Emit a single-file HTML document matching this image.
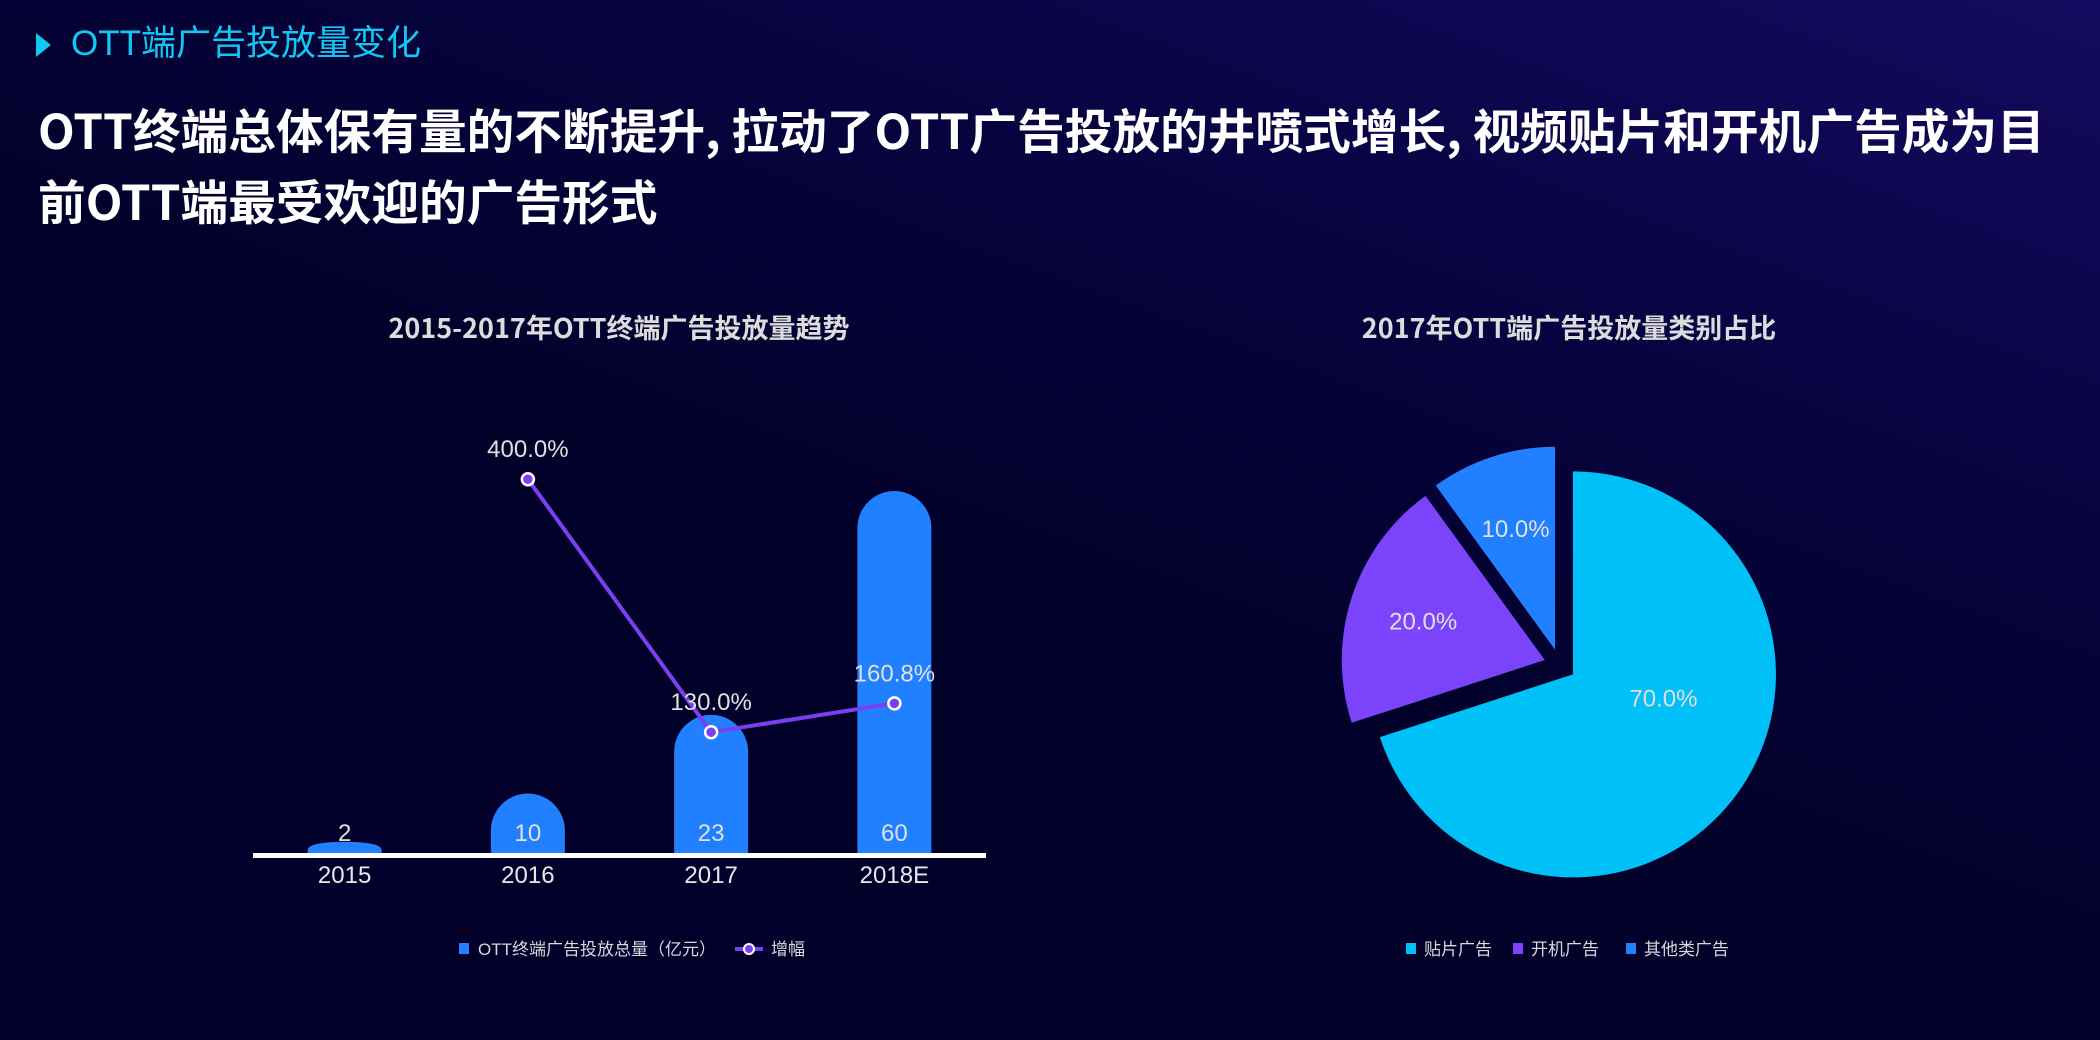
<!DOCTYPE html>
<html><head><meta charset="utf-8">
<style>
html,body{margin:0;padding:0;}
body{width:2100px;height:1040px;overflow:hidden;position:relative;
background:linear-gradient(200deg,#140a60 0%,#07033f 30%,#020129 55%,#01002a 100%);
font-family:"Liberation Sans","Noto Sans CJK SC",sans-serif;}
.hdr{position:absolute;left:71px;top:20px;font-size:35px;color:#10c8f2;line-height:48px;}
.tri{position:absolute;left:36px;top:33px;width:0;height:0;border-top:12px solid transparent;border-bottom:12px solid transparent;border-left:15px solid #10c8f2;}
.title{position:absolute;left:38px;top:93px;font-family:"Noto Sans CJK SC",sans-serif;font-weight:bold;font-size:47.7px;line-height:71px;color:#fff;white-space:nowrap;}
svg{position:absolute;left:0;top:0;}
</style></head><body>
<div class="tri"></div>
<div class="hdr">OTT端广告投放量变化</div>
<div class="title">OTT终端总体保有量的不断提升, 拉动了OTT广告投放的井喷式增长, 视频贴片和开机广告成为目<br>前OTT端最受欢迎的广告形式</div>
<svg id="chart" width="2100" height="1040"></svg>
<script>
const categories=["2015","2016","2017","2018E"];
const barValues=[2,10,23,60];
const growthCats=["2016","2017","2018E"];
const growthValues=[400.0,130.0,160.8];
const pieLabels=["贴片广告","开机广告","其他类广告"];
const pieValues=[70,20,10];
const pieColors=["#00c0f8","#7b44fb","#2080ff"];

const NS="http://www.w3.org/2000/svg";
const svg=document.getElementById('chart');
function mk(tag,attrs,parent){const e=document.createElementNS(NS,tag);for(const k in attrs)e.setAttribute(k,attrs[k]);(parent||svg).appendChild(e);return e;}
function txt(s,x,y,size,fill,extra){const t=mk('text',Object.assign({x:x,y:y,'font-size':size,fill:fill,'text-anchor':'middle','font-family':'"Liberation Sans","Noto Sans CJK SC",sans-serif'},extra||{}));t.textContent=s;return t;}

// Bar chart
const axisY=854, x0=253, x1=986;
const xPos=i=>x0+(x1-x0)/categories.length*(i+0.5);
const yBar=v=>axisY-v*6.05;
const yLine=v=>axisY-v*0.937;
const t1=txt("2015-2017年OTT终端广告投放量趋势",619,338,27,"#dcdcdc",{'font-weight':'bold','font-family':'"Noto Sans CJK SC",sans-serif'});


const r=37;
barValues.forEach((v,i)=>{
  const cx=xPos(i),top=yBar(v),h=axisY-top;
  let d;
  if(h>=r){d=`M${cx-r},${axisY} L${cx-r},${top+r} A${r},${r} 0 0 1 ${cx+r},${top+r} L${cx+r},${axisY} Z`;}
  else{d=`M${cx-r},${axisY} L${cx-r},${axisY-h*0.3} Q${cx-r},${top} ${cx},${top} Q${cx+r},${top} ${cx+r},${axisY-h*0.3} L${cx+r},${axisY} Z`;}
  const p=mk('path',{d:d,fill:'#2080ff'});
  
  
  const lbl=txt(String(v),cx,841,24,"#e0e0e0");
  
  
  const cl=txt(categories[i],cx,883,24,"#e8e8e8");
  
  
});
const ax=mk('rect',{x:x0,y:axisY-1,width:x1-x0,height:5,fill:'#fff'});


const pts=growthValues.map((v,i)=>[xPos(categories.indexOf(growthCats[i])),yLine(v)]);
const pl=mk('polyline',{points:pts.map(p=>p.join(',')).join(' '),fill:'none',stroke:'#7b3ff2','stroke-width':4});


pts.forEach((p,i)=>{
  const c=mk('circle',{cx:p[0],cy:p[1],r:6,fill:'#7b3ff2',stroke:'#fff','stroke-width':2.5});
  
  
  const l=txt(growthValues[i].toFixed(1)+'%',p[0],p[1]-22,24,"#e0e0e0");
  
  
});
// bar legend
const lg1=mk('rect',{x:459,y:943,width:10,height:11,fill:'#2080ff'});


const lt1=txt("OTT终端广告投放总量（亿元）",478,955,17,"#d8d8d8",{'text-anchor':'start'});


const ll=mk('line',{x1:735,y1:949,x2:763,y2:949,stroke:'#7b3ff2','stroke-width':4});


const lc=mk('circle',{cx:749,cy:949,r:5,fill:'#7b3ff2',stroke:'#fff','stroke-width':2});


const lt2=txt("增幅",771,955,17,"#d8d8d8",{'text-anchor':'start'});



// Pie
const t2=txt("2017年OTT端广告投放量类别占比",1569,338,27,"#dcdcdc",{'font-weight':'bold','font-family':'"Noto Sans CJK SC",sans-serif'});


const C=[1560,665],R=203,off=16;
const total=pieValues.reduce((a,b)=>a+b,0);
let acc=0;
pieValues.forEach((v,i)=>{
  const a0=acc/total*2*Math.PI, a1=(acc+v)/total*2*Math.PI; acc+=v;
  const am=(a0+a1)/2;
  const cx=C[0]+off*Math.sin(am), cy=C[1]-off*Math.cos(am);
  const p0=[cx+R*Math.sin(a0),cy-R*Math.cos(a0)], p1=[cx+R*Math.sin(a1),cy-R*Math.cos(a1)];
  const large=(a1-a0)>Math.PI?1:0;
  const s=mk('path',{d:`M${cx},${cy} L${p0[0]},${p0[1]} A${R},${R} 0 ${large} 1 ${p1[0]},${p1[1]} Z`,fill:pieColors[i]});
  
  
  const lr=R*(large?0.46:0.63);
  const la=large?am-0.38:am;
  const l=txt((v/total*100).toFixed(1)+'%',cx+lr*Math.sin(la),cy-lr*Math.cos(la)+9,24,"#e0e0e0");
  
  
});
const lgx=[1406,1513,1626];
pieLabels.forEach((n,i)=>{
  const r=mk('rect',{x:lgx[i],y:943,width:10,height:11,fill:pieColors[i]});
  
  
  const t=txt(n,lgx[i]+18,955,17,"#d8d8d8",{'text-anchor':'start'});
  
  
});
</script>
</body></html>
